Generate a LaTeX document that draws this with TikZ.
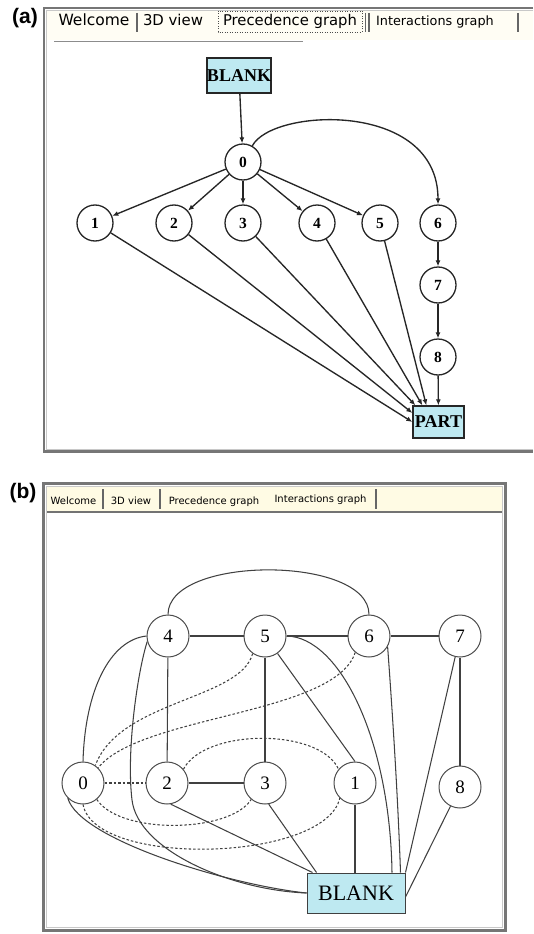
\documentclass[tikz,border=0pt]{standalone}
\usepackage{fontspec}
\setmainfont{Liberation Serif}
\newfontfamily\tabfont{DejaVu Sans}
\newfontfamily\panelfont{Liberation Sans}
\usetikzlibrary{arrows.meta}
\definecolor{boxcyan}{RGB}{190,233,241}
\definecolor{tabcream}{RGB}{255,251,228}
\definecolor{frameouter}{RGB}{118,118,118}
\definecolor{frameinner}{RGB}{200,200,200}
\newcommand{\fsz}[1]{\fontsize{#1}{#1}\selectfont}

\begin{document}
\begin{tikzpicture}[x=1pt,y=-1pt,
  tablabel/.style={anchor=base, inner sep=0, font=\tabfont\fsz{#1}},
  panellabel/.style={anchor=base, inner sep=0, font=\panelfont\bfseries\fsz{21}},
  tabsep/.style={line width=1.6, black!60},
  pnode/.style={circle, draw=black!85, line width=1.3, minimum size=36, inner sep=0,
                font=\bfseries\fsz{15.5}},
  pbox/.style={rectangle, draw=black!85, line width=1.3, fill=boxcyan, inner sep=0,
               font=\bfseries\fsz{18}},
  parrow/.style={-{Latex[length=6pt,width=5pt]}, line width=1.35, black!85},
  inode/.style={circle, draw=black!70, line width=1, minimum size=42, inner sep=0,
                font=\fsz{19}},
  ibox/.style={rectangle, draw=black!75, line width=1, fill=boxcyan, inner sep=0,
               font=\fsz{22}},
  iedge/.style={line width=1.05, black!75},
  idash/.style={iedge, dash pattern=on 2.5pt off 2pt}]

\useasboundingbox (0,0) rectangle (533,934);

%------------------------------------------------------------ panel (a)
\node[panellabel] (laba) at (25,24) {(a)};
\fill[tabcream!40] (47,11) rectangle (533,40);
\draw[frameouter, line width=2.5] (533,8) -- (44,8) -- (44,451.5) -- (533,451.5);
\draw[frameinner, line width=1] (533,10.5) -- (46.5,10.5) -- (46.5,449) -- (533,449);
\draw[black!45, line width=1] (54,42) -- (303,42);

\node[tablabel=15.5] (ta1) at (94,26) {Welcome};
\node[tablabel=14.9] (ta2) at (173,26) {3D view};
\node[tablabel=14.8] (ta3) at (290,26) {Precedence graph};
\node[tablabel=12.8] (ta4) at (435,26) {Interactions graph};
\draw[tabsep] (137,13) -- (137,32);
\draw[tabsep] (365.5,13) -- (365.5,32);
\draw[tabsep] (369,13) -- (369,32);
\draw[tabsep] (518,13) -- (518,32);
\draw[black!70, line width=0.7, dash pattern=on 1pt off 1.5pt] (218,11) rectangle (362,32);

\node[pbox, minimum width=64, minimum height=35] (ablank) at (239,75.5) {BLANK};
\node[pnode] (a0) at (243,162) {0};
\node[pnode] (a1) at (95,223) {1};
\node[pnode] (a2) at (174,223) {2};
\node[pnode] (a3) at (243,223) {3};
\node[pnode] (a4) at (317,223) {4};
\node[pnode] (a5) at (380,223) {5};
\node[pnode] (a6) at (438,223) {6};
\node[pnode] (a7) at (438,285) {7};
\node[pnode] (a8) at (438,357) {8};
\node[pbox, minimum width=51, minimum height=32] (apart) at (438.5,422) {PART};

\draw[parrow] (ablank) -- (a0);
\draw[parrow] (a0) -- (a1);
\draw[parrow] (a0) -- (a2);
\draw[parrow] (a0) -- (a3);
\draw[parrow] (a0) -- (a4);
\draw[parrow] (a0) -- (a5);
\draw[parrow] (a0.60) .. controls (272,108) and (438,100) .. (a6.north);
\draw[parrow] (a6) -- (a7);
\draw[parrow] (a7) -- (a8);
\draw[parrow] (a8) -- (apart);
\draw[parrow] (a1) -- (apart.west);
\draw[parrow] (a2) -- ([yshift=9pt]apart.west);
\draw[parrow] (a3) -- ([xshift=3pt]apart.north west);
\draw[parrow] (a4) -- ([xshift=10pt]apart.north west);
\draw[parrow] (a5) -- ([xshift=14pt]apart.north west);

%------------------------------------------------------------ panel (b)
\node[panellabel] (labb) at (23,498) {(b)};
\fill[tabcream] (47,487) rectangle (502,511);
\draw[frameouter, line width=3] (43.5,483.5) rectangle (505.5,930.5);
\draw[frameinner, line width=1] (46.5,486.5) rectangle (502.5,927.5);
\draw[black!55, line width=1.5] (47,512) -- (502,512);

\node[tablabel=10] (tb1) at (73.5,504) {Welcome};
\node[tablabel=10] (tb2) at (131,504) {3D view};
\node[tablabel=10] (tb3) at (214,504) {Precedence graph};
\node[tablabel=10] (tb4) at (320.5,502) {Interactions graph};
\draw[tabsep, line width=1.3] (103,489) -- (103,509);
\draw[tabsep, line width=1.3] (160,489) -- (160,509);
\draw[tabsep, line width=1.3] (376,489) -- (376,509);

\node[inode] (b4) at (168,636) {4};
\node[inode] (b5) at (265,636) {5};
\node[inode] (b6) at (369,636) {6};
\node[inode] (b7) at (460,636) {7};
\node[inode] (b0) at (83,783) {0};
\node[inode] (b2) at (167,783) {2};
\node[inode] (b3) at (265,783) {3};
\node[inode] (b1) at (355,783) {1};
\node[inode] (b8) at (460,787) {8};
\node[ibox, minimum width=98, minimum height=40] (bblank) at (356,893) {BLANK};

% solid interactions
\draw[iedge] (b4.north) .. controls (168,555) and (369,555) .. (b6.north);
\draw[iedge] (b4) -- (b5);
\draw[iedge] (b5) -- (b6);
\draw[iedge] (b6) -- (b7);
\draw[iedge] (b4) -- (b2);
\draw[iedge] (b5) -- (b3);
\draw[iedge] (b7) -- (b8);
\draw[iedge] (b2) -- (b3);
\draw[iedge] (b5) -- (b1.north);
\draw[iedge] (b5.east) .. controls (340,637) and (390,740) .. ([xshift=36pt]bblank.north);
\draw[iedge] (b6.-30) .. controls (393,720) and (398,800) .. ([xshift=-5pt]bblank.north east);
\draw[iedge] (b7) -- (bblank.north east);
\draw[iedge] (b8) -- ([yshift=-4pt]bblank.east);
\draw[iedge] (b4.180) .. controls (110,640) and (85,690) .. (b0.north);
\draw[iedge] (b4.195) .. controls (138,670) and (126,750) .. (132,800)
                      .. controls (138,850) and (230,890) .. (bblank.west);
\draw[iedge] (b0.225) .. controls (80,840) and (230,885) .. (bblank.west);
\draw[iedge] (b2.-80) -- ([xshift=6pt]bblank.north west);
\draw[iedge] (b3.-80) -- ([xshift=10pt]bblank.north west);
\draw[iedge] (b1) -- (b1 |- bblank.north);

% dashed interactions
\draw[idash] (b0) -- (b2);
\draw[idash] (b5.235) .. controls (240,700) and (120,700) .. (b0.55);
\draw[idash] (b6.230) .. controls (335,715) and (140,715) .. (b0.45);
\draw[idash] (b2.40) .. controls (205,728) and (320,728) .. (b1.140);
\draw[idash] (b0.-50) .. controls (120,835) and (230,833) .. (b3.230);
\draw[idash] (b0.south) .. controls (95,868) and (325,862) .. (b1.225);

\end{tikzpicture}
\end{document}
